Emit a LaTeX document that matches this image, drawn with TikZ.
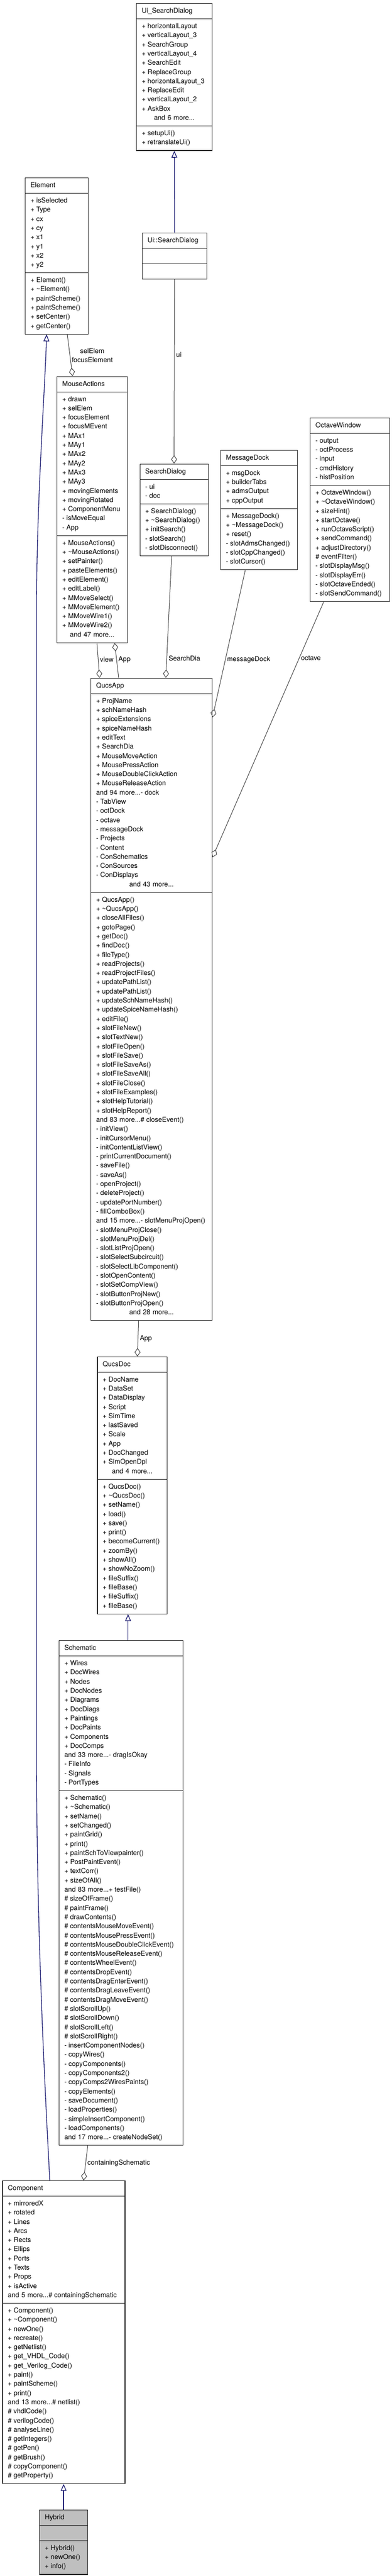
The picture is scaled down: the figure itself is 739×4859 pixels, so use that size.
\documentclass[tikz,border=0pt]{standalone}
\usepackage{fontspec}
\setmainfont{TeX Gyre Heros}
\usetikzlibrary{arrows.meta, shapes.multipart}
\definecolor{inhblue}{HTML}{191970}
\definecolor{usegray}{HTML}{404040}
\newcommand{\pub}{+\kern.28em}
\newcommand{\prv}{-\kern.28em}
\newcommand{\pro}{\#\kern.28em}
\newcommand{\andmore}[1]{\noindent\hbox to\hsize{\hss\strut and #1 more...\hss}}

\begin{document}
\begin{tikzpicture}[x=1pt, y=-1pt,
	cls/.style={draw=black!85, line width=1.2pt, fill=white, rectangle split, rectangle split parts=3, anchor=north west, inner xsep=10pt, inner ysep=5.25pt, align=left, font=\fontsize{12.8}{17.3}\selectfont},
	inherit/.style={draw=inhblue, line width=1.3pt, -{Triangle[open, length=13pt, width=11pt]}},
	member/.style={draw=usegray, line width=1pt, {Diamond[open, length=16pt, width=11pt]}-},
	lbl/.style={font=\fontsize{12.8}{17}\selectfont, inner sep=3pt}]

	\path[use as bounding box, fill=white] (0,0) rectangle (739,4859);

	\node[cls, text width=123pt] (uidlg) at (257,6) {\centering\strut Ui\_SearchDialog
		\nodepart{two}\strut\pub horizontalLayout\\ \pub verticalLayout\_3\\ \pub SearchGroup\\ \pub verticalLayout\_4\\ \pub SearchEdit\\ \pub ReplaceGroup\\ \pub horizontalLayout\_3\\ \pub ReplaceEdit\\ \pub verticalLayout\_2\\ \pub AskBox\\ \andmore{6}
		\nodepart{three}\strut\pub setupUi()\\ \pub retranslateUi()\strut};

	\node[cls, text width=102pt] (uisearch) at (268,438.6) {\centering\strut Ui::SearchDialog
		\nodepart{two}\strut
		\nodepart{three}\strut};

	\node[cls, text width=99pt] (element) at (47,335) {\centering\strut Element
		\nodepart{two}\strut\pub isSelected\\ \pub Type\\ \pub cx\\ \pub cy\\ \pub x1\\ \pub y1\\ \pub x2\\ \pub y2\strut
		\nodepart{three}\strut\pub Element()\\ \pub \textasciitilde Element()\\ \pub paintScheme()\\ \pub paintScheme()\\ \pub setCenter()\\ \pub getCenter()\strut};

	\node[cls, text width=113pt] (mouseact) at (107,709.5) {\centering\strut MouseActions
		\nodepart{two}\strut\pub drawn\\ \pub selElem\\ \pub focusElement\\ \pub focusMEvent\\ \pub MAx1\\ \pub MAy1\\ \pub MAx2\\ \pub MAy2\\ \pub MAx3\\ \pub MAy3\\ \pub movingElements\\ \pub movingRotated\\ \pub ComponentMenu\\ \prv isMoveEqual\\ \prv App\strut
		\nodepart{three}\strut\pub MouseActions()\\ \pub \textasciitilde MouseActions()\\ \pub setPainter()\\ \pub pasteElements()\\ \pub editElement()\\ \pub editLabel()\\ \pub MMoveSelect()\\ \pub MMoveElement()\\ \pub MMoveWire1()\\ \pub MMoveWire2()\\ \andmore{47}};

	\node[cls, text width=109pt] (searchdlg) at (263.5,874.5) {\centering\strut SearchDialog
		\nodepart{two}\strut\prv ui\\ \prv doc\strut
		\nodepart{three}\strut\pub SearchDialog()\\ \pub \textasciitilde SearchDialog()\\ \pub initSearch()\\ \prv slotSearch()\\ \prv slotDisconnect()\strut};

	\node[cls, text width=125pt] (msgdock) at (416,848.7) {\centering\strut MessageDock
		\nodepart{two}\strut\pub msgDock\\ \pub builderTabs\\ \pub admsOutput\\ \pub cppOutput\strut
		\nodepart{three}\strut\pub MessageDock()\\ \pub \textasciitilde MessageDock()\\ \pub reset()\\ \prv slotAdmsChanged()\\ \prv slotCppChanged()\\ \prv slotCursor()\strut};

	\node[cls, text width=130pt] (octwin) at (585,787.7) {\centering\strut OctaveWindow
		\nodepart{two}\strut\prv output\\ \prv octProcess\\ \prv input\\ \prv cmdHistory\\ \prv histPosition\strut
		\nodepart{three}\strut\pub OctaveWindow()\\ \pub \textasciitilde OctaveWindow()\\ \pub sizeHint()\\ \pub startOctave()\\ \pub runOctaveScript()\\ \pub sendCommand()\\ \pub adjustDirectory()\\ \pro eventFilter()\\ \prv slotDisplayMsg()\\ \prv slotDisplayErr()\\ \prv slotOctaveEnded()\\ \prv slotSendCommand()\strut};

	\node[cls, text width=209pt] (qucsapp) at (171,1278.7) {\centering\strut QucsApp
		\nodepart{two}\strut\pub ProjName\\ \pub schNameHash\\ \pub spiceExtensions\\ \pub spiceNameHash\\ \pub editText\\ \pub SearchDia\\ \pub MouseMoveAction\\ \pub MousePressAction\\ \pub MouseDoubleClickAction\\ \pub MouseReleaseAction\\ and 94 more...\prv dock\\ \prv TabView\\ \prv octDock\\ \prv octave\\ \prv messageDock\\ \prv Projects\\ \prv Content\\ \prv ConSchematics\\ \prv ConSources\\ \prv ConDisplays\\ \andmore{43}
		\nodepart{three}\strut\pub QucsApp()\\ \pub \textasciitilde QucsApp()\\ \pub closeAllFiles()\\ \pub gotoPage()\\ \pub getDoc()\\ \pub findDoc()\\ \pub fileType()\\ \pub readProjects()\\ \pub readProjectFiles()\\ \pub updatePathList()\\ \pub updatePathList()\\ \pub updateSchNameHash()\\ \pub updateSpiceNameHash()\\ \pub editFile()\\ \pub slotFileNew()\\ \pub slotTextNew()\\ \pub slotFileOpen()\\ \pub slotFileSave()\\ \pub slotFileSaveAs()\\ \pub slotFileSaveAll()\\ \pub slotFileClose()\\ \pub slotFileExamples()\\ \pub slotHelpTutorial()\\ \pub slotHelpReport()\\ and 83 more...\pro closeEvent()\\ \prv initView()\\ \prv initCursorMenu()\\ \prv initContentListView()\\ \prv printCurrentDocument()\\ \prv saveFile()\\ \prv saveAs()\\ \prv openProject()\\ \prv deleteProject()\\ \prv updatePortNumber()\\ \prv fillComboBox()\\ and 15 more...\prv slotMenuProjOpen()\\ \prv slotMenuProjClose()\\ \prv slotMenuProjDel()\\ \prv slotListProjOpen()\\ \prv slotSelectSubcircuit()\\ \prv slotSelectLibComponent()\\ \prv slotOpenContent()\\ \prv slotSetCompView()\\ \prv slotButtonProjNew()\\ \prv slotButtonProjOpen()\\ \andmore{28}};

	\node[cls, text width=111.7pt] (qucsdoc) at (183.3,2558.6) {\centering\strut QucsDoc
		\nodepart{two}\strut\pub DocName\\ \pub DataSet\\ \pub DataDisplay\\ \pub Script\\ \pub SimTime\\ \pub lastSaved\\ \pub Scale\\ \pub App\\ \pub DocChanged\\ \pub SimOpenDpl\\ \andmore{4}
		\nodepart{three}\strut\pub QucsDoc()\\ \pub \textasciitilde QucsDoc()\\ \pub setName()\\ \pub load()\\ \pub save()\\ \pub print()\\ \pub becomeCurrent()\\ \pub zoomBy()\\ \pub showAll()\\ \pub showNoZoom()\\ \pub fileSuffix()\\ \pub fileBase()\\ \pub fileSuffix()\\ \pub fileBase()\strut};

	\node[cls, text width=214pt] (schematic) at (111,3094) {\centering\strut Schematic
		\nodepart{two}\strut\pub Wires\\ \pub DocWires\\ \pub Nodes\\ \pub DocNodes\\ \pub Diagrams\\ \pub DocDiags\\ \pub Paintings\\ \pub DocPaints\\ \pub Components\\ \pub DocComps\\ and 33 more...\prv dragIsOkay\\ \prv FileInfo\\ \prv Signals\\ \prv PortTypes\strut
		\nodepart{three}\strut\pub Schematic()\\ \pub \textasciitilde Schematic()\\ \pub setName()\\ \pub setChanged()\\ \pub paintGrid()\\ \pub print()\\ \pub paintSchToViewpainter()\\ \pub PostPaintEvent()\\ \pub textCorr()\\ \pub sizeOfAll()\\ and 83 more...\pub testFile()\\ \pro sizeOfFrame()\\ \pro paintFrame()\\ \pro drawContents()\\ \pro contentsMouseMoveEvent()\\ \pro contentsMousePressEvent()\\ \pro contentsMouseDoubleClickEvent()\\ \pro contentsMouseReleaseEvent()\\ \pro contentsWheelEvent()\\ \pro contentsDropEvent()\\ \pro contentsDragEnterEvent()\\ \pro contentsDragLeaveEvent()\\ \pro contentsDragMoveEvent()\\ \pro slotScrollUp()\\ \pro slotScrollDown()\\ \pro slotScrollLeft()\\ \pro slotScrollRight()\\ \prv insertComponentNodes()\\ \prv copyWires()\\ \prv copyComponents()\\ \prv copyComponents2()\\ \prv copyComps2WiresPaints()\\ \prv copyElements()\\ \prv saveDocument()\\ \prv loadProperties()\\ \prv simpleInsertComponent()\\ \prv loadComponents()\\ and 17 more...\prv createNodeSet()\strut};

	\node[cls, text width=211pt] (component) at (4.3,4112.8) {\centering\strut Component
		\nodepart{two}\strut\pub mirroredX\\ \pub rotated\\ \pub Lines\\ \pub Arcs\\ \pub Rects\\ \pub Ellips\\ \pub Ports\\ \pub Texts\\ \pub Props\\ \pub isActive\\ and 5 more...\pro containingSchematic\strut
		\nodepart{three}\strut\pub Component()\\ \pub \textasciitilde Component()\\ \pub newOne()\\ \pub recreate()\\ \pub getNetlist()\\ \pub get\_VHDL\_Code()\\ \pub get\_Verilog\_Code()\\ \pub paint()\\ \pub paintScheme()\\ \pub print()\\ and 13 more...\pro netlist()\\ \pro vhdlCode()\\ \pro verilogCode()\\ \pro analyseLine()\\ \pro getIntegers()\\ \pro getPen()\\ \pro getBrush()\\ \pro copyComponent()\\ \pro getProperty()\strut};

	\node[cls, text width=71pt, fill=black!25] (hybrid) at (74,4733.7) {\centering\strut Hybrid
		\nodepart{two}\strut
		\nodepart{three}\strut\pub Hybrid()\\ \pub newOne()\\ \pub info()\strut};

	\draw[inherit] (uisearch.north) -- (uidlg.south);
	\draw[member] (searchdlg.north) -- (uisearch.south) node[lbl, right, pos=0.59] {ui};

	\draw[member] ([xshift=30pt]mouseact.north west) -- ([xshift=80pt]element.south west) node[lbl, right, pos=0.5, align=center] {selElem\\focusElement};
	\draw[inherit] ([xshift=89.7pt]component.north west) .. controls (80,3850) and (69,3600) .. (69,3300) -- (69,1150) .. controls (69,950) and (84,750) .. ([xshift=41pt]element.south west);

	\draw[member] ([xshift=17pt]qucsapp.north west) -- ([xshift=76pt]mouseact.south west) node[lbl, right, pos=0.52] {view};
	\draw[member] ([xshift=109.5pt]mouseact.south west) -- ([xshift=53pt]qucsapp.north west) node[lbl, right, pos=0.48] {App};
	\draw[member] ([xshift=142pt]qucsapp.north west) -- ([xshift=60.5pt]searchdlg.south west) node[lbl, right, pos=0.16] {SearchDia};
	\draw[member] ([yshift=-74.3pt]qucsapp.north east) -- ([xshift=47pt]msgdock.south west) node[lbl, right, pos=0.39] {messageDock};
	\draw[member] ([yshift=-338.3pt]qucsapp.north east) -- ([xshift=26pt]octwin.south west) node[lbl, right, pos=0.78] {octave};

	\draw[member] ([xshift=76pt]qucsdoc.north west) -- ([xshift=90.7pt]qucsapp.south west) node[lbl, right, pos=0.5] {App};
	\draw[inherit] ([xshift=130.7pt]schematic.north west) -- ([xshift=58.4pt]qucsdoc.south west);
	\draw[member] ([xshift=153.4pt]component.north west) -- ([xshift=54.7pt]schematic.south west) node[lbl, right, pos=0.5] {containingSchematic};
	\draw[inherit] (hybrid.north) -- (hybrid.north |- component.south);
\end{tikzpicture}
\end{document}
